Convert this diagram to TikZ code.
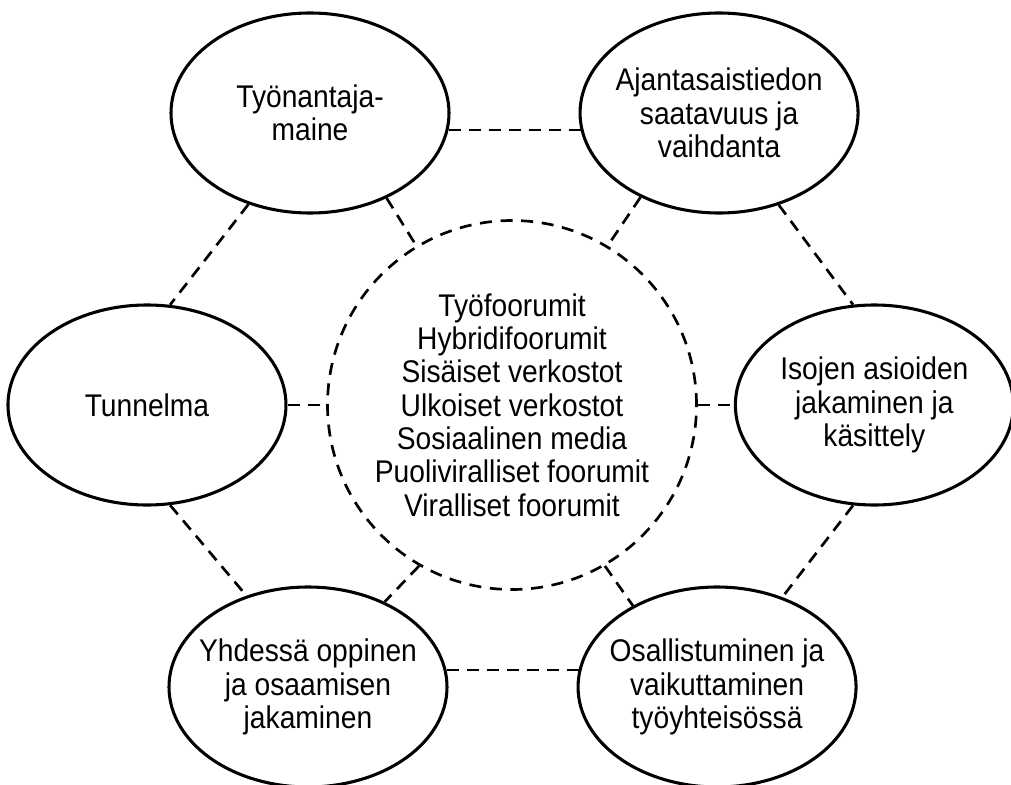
\documentclass[tikz,border=0pt]{standalone}
\usepackage{fontspec}
\setmainfont[FakeStretch=0.9]{Liberation Sans}
\usetikzlibrary{shapes.geometric,positioning}
\tikzset{bubble/.style={draw,ellipse,line width=2.3pt,minimum width=208.5pt,minimum height=150pt,inner ysep=0pt,inner xsep=-14pt,align=center,font=\fontsize{23.5}{25}\selectfont},hub/.style={draw,circle,line width=2pt,dash pattern=on 9pt off 6.5pt,minimum size=276.75pt,inner sep=0pt,align=center,font=\fontsize{23.5}{25}\selectfont},link/.style={line width=2pt,dash pattern=on 9pt off 6pt}}

\begin{document}
\begin{tikzpicture}[x=0.75pt,y=-0.75pt,node distance=96pt]
\useasboundingbox (0,0) rectangle (1011,785);
\node[hub] (foorumit) at (512,405) {Työfoorumit\\Hybridifoorumit\\Sisäiset verkostot\\Ulkoiset verkostot\\Sosiaalinen media\\Puoliviralliset foorumit\\Viralliset foorumit};
\node[bubble,left=29pt of foorumit] (tunnelma) {Tunnelma};\node[bubble,right=27pt of foorumit] (isojen) {Isojen asioiden\\jakaminen ja\\käsittely};
\node[bubble] (tyonantaja) at (310,113) {Työnantaja-\\maine};\node[bubble,right=of tyonantaja] (ajantasa) {Ajantasaistiedon\\saatavuus ja\\vaihdanta};
\node[bubble] (yhdessa) at (308,687) {Yhdessä oppinen\\ja osaamisen\\jakaminen};\node[bubble,right=of yhdessa] (osallistuminen) {Osallistuminen ja\\vaikuttaminen\\työyhteisössä};
\draw[link] (tyonantaja.236) -- (tunnelma.77);\draw[link] (tyonantaja.312) -- (foorumit.121);\draw[link] (tyonantaja.-7) -- (ajantasa.187);
\draw[link] (ajantasa.227) -- (foorumit.59);\draw[link] (ajantasa.303) -- (isojen.102);
\draw[link] (tunnelma) -- (foorumit);\draw[link] (foorumit) -- (isojen);
\draw[link] (tunnelma.283) -- (yhdessa.124);\draw[link] (foorumit.240) -- (yhdessa.48);\draw[link] (foorumit.300) -- (osallistuminen.136);
\draw[link] (isojen.258) -- (osallistuminen.54);\draw[link] (yhdessa.7) -- (osallistuminen.173);
\end{tikzpicture}
\end{document}
